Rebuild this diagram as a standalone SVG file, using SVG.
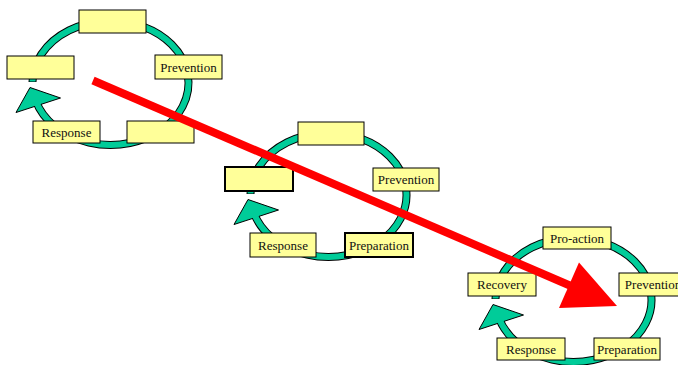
<svg xmlns="http://www.w3.org/2000/svg" xmlns:xlink="http://www.w3.org/1999/xlink" width="678" height="365" viewBox="0 0 678 365">
  <style>
    .box { fill: #FFFF99; stroke: #000; stroke-width: 1; }
    .thick { stroke-width: 2; }
    .lbl { font-family: "Liberation Serif", "Times New Roman", serif; font-size: 13px; fill: #111; text-anchor: middle; }
    .ringout { fill: none; stroke: #000; stroke-width: 8; }
    .ringin { fill: none; stroke: #00CC99; stroke-width: 6; }
    .head { fill: #00CC99; stroke: #000; stroke-width: 1; stroke-linejoin: miter; }
  </style>
  <defs>
    <g id="ring">
      <path class="ringout" d="M 32.5 82 A 78 62 0 1 1 35.9 101.1"/>
      <polygon class="head" points="30,87.5 60.5,98 16,112.5"/>
      <path class="ringin" d="M 32.5 81.5 A 78 62 0 1 1 35.9 101.1"/>
    </g>
  </defs>

  <g id="cycle1">
    <use xlink:href="#ring" href="#ring"/>
    <g id="c1-top"><rect class="box" x="79" y="10" width="67" height="23"/></g>
    <g id="c1-left"><rect class="box" x="7" y="56" width="67" height="23"/></g>
    <g id="c1-prevention"><rect class="box" x="155" y="55" width="67" height="24"/><text class="lbl" x="188.5" y="71.5">Prevention</text></g>
    <g id="c1-response"><rect class="box" x="33" y="121" width="67" height="22"/><text class="lbl" x="66.5" y="136.5">Response</text></g>
    <g id="c1-bottom"><rect class="box" x="127" y="121" width="67" height="22"/></g>
  </g>

  <g id="cycle2">
    <use xlink:href="#ring" href="#ring" transform="translate(218,112)"/>
    <g id="c2-top"><rect class="box" x="298" y="122" width="66" height="23"/></g>
    <g id="c2-left"><rect class="box thick" x="225" y="167" width="68" height="24"/></g>
    <g id="c2-prevention"><rect class="box" x="373" y="168" width="66" height="23"/><text class="lbl" x="406" y="184">Prevention</text></g>
    <g id="c2-response"><rect class="box" x="250" y="233" width="66" height="24"/><text class="lbl" x="283" y="249.5">Response</text></g>
    <g id="c2-preparation"><rect class="box thick" x="345" y="233" width="68" height="24"/><text class="lbl" x="379" y="249.5">Preparation</text></g>
  </g>

  <g id="cycle3">
    <use xlink:href="#ring" href="#ring" transform="translate(463,217)"/>
    <g id="c3-proaction"><rect class="box" x="543" y="227" width="68" height="22"/><text class="lbl" x="577" y="242.5">Pro-action</text></g>
    <g id="c3-recovery"><rect class="box" x="468" y="273" width="68" height="23"/><text class="lbl" x="502" y="289">Recovery</text></g>
    <g id="c3-prevention"><rect class="box" x="619" y="273" width="68" height="23"/><text class="lbl" x="653" y="289">Prevention</text></g>
    <g id="c3-response"><rect class="box" x="497" y="338" width="68" height="22"/><text class="lbl" x="531" y="353.5">Response</text></g>
    <g id="c3-preparation"><rect class="box" x="594" y="338" width="66" height="22"/><text class="lbl" x="627" y="353.5">Preparation</text></g>
  </g>

  <g id="connectors">
    <line x1="93" y1="80.5" x2="571" y2="286" stroke="#FF0000" stroke-width="8"/>
    <polygon points="579,262.5 617,306 559,308" fill="#FF0000"/>
  </g>
</svg>
